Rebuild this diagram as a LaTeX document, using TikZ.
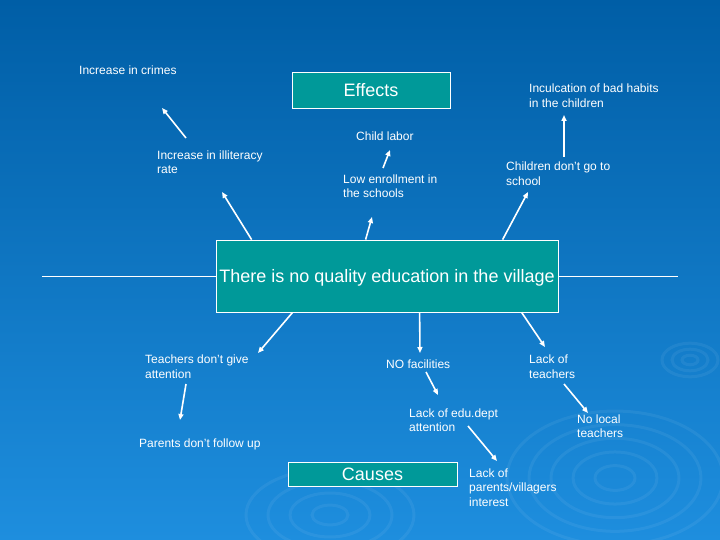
\documentclass[tikz,border=0pt]{standalone}
\usepackage{fontspec}
\setmainfont{Liberation Sans}
\usetikzlibrary{arrows.meta}

\definecolor{slidetop}{RGB}{0,94,166}
\definecolor{slidemid}{RGB}{0,104,180}
\definecolor{slidebot}{RGB}{30,142,222}
\definecolor{boxteal}{RGB}{0,153,153}

\begin{document}
\begin{tikzpicture}[
  x=1pt, y=-1pt,
  font=\fontsize{12}{14.5}\selectfont,
  lbl/.style   ={text=white, align=left, inner sep=0pt, anchor=base west},
  title/.style ={draw=white, fill=boxteal, text=white, line width=0.8pt,
                 inner sep=0pt, text depth=0pt, font=\fontsize{18}{21}\selectfont},
  ar/.style    ={-{Triangle[length=6pt,width=5pt]}, white, line width=1.6pt},
  axis/.style  ={white, line width=0.9pt},
  ripple/.style={draw=white, draw opacity=0.06, line width=3pt}
]

% slide background
\useasboundingbox (0,0) rectangle (720,540);
\shade[top color=slidetop, middle color=slidemid, bottom color=slidebot]
  (0,0) rectangle (720,540);
\foreach \r in {20,42,64,86,108}
  \draw[ripple] (615,478) ellipse[x radius=\r pt, y radius=0.62*\r pt];
\foreach \r in {18,40,62,84}
  \draw[ripple] (330,515) ellipse[x radius=\r pt, y radius=0.55*\r pt];
\foreach \r in {8,18,28}
  \draw[ripple] (690,360) ellipse[x radius=\r pt, y radius=0.6*\r pt];

% headings and the problem
\node[title, minimum width=158pt, minimum height=36pt] (effects) at (371,90) {Effects};
\node[title, minimum width=342pt, minimum height=72pt] (main) at (387,276)
  {There is no quality education in the village};
\node[title, minimum width=169pt, minimum height=24pt] (causes) at (372.5,474) {Causes};

\coordinate (leftend)  at (42,276);
\coordinate (rightend) at (678,276);
\draw[axis] (leftend) -- (main.west);
\draw[axis] (main.east) -- (rightend);

% effects (base = baseline of the last line)
\node[lbl] (crimes) at (79,75)    {Increase in crimes};
\node[lbl] (illit)  at (157,174)  {Increase in illiteracy\\rate};
\node[lbl] (labor)  at (356,141)  {Child labor};
\node[lbl] (enrol)  at (343,198)  {Low enrollment in\\the schools};
\node[lbl] (school) at (506,185.5){Children don't go to\\school};
\node[lbl] (habits) at (529,107.5){Inculcation of bad habits\\in the children};

% causes
\node[lbl] (attn)     at (145,378)  {Teachers don't give\\attention};
\node[lbl] (follow)   at (139,447)  {Parents don't follow up};
\node[lbl] (facil)    at (386,368.5){NO facilities};
\node[lbl] (lackt)    at (529,378)  {Lack of\\teachers};
\node[lbl] (dept)     at (409,431.5){Lack of edu.dept\\attention};
\node[lbl] (local)    at (577,437.5){No local\\teachers};
\node[lbl] (interest) at (469,506)  {Lack of\\parents/villagers\\interest};

% free arrow ends
\coordinate (crimes-in)   at (162,108);
\coordinate (illit-out)   at (186,138);
\coordinate (illit-in)    at (222,192);
\coordinate (labor-in)    at (390,150);
\coordinate (enrol-out)   at (383,168);
\coordinate (enrol-in)    at (372,217);
\coordinate (school-in)   at (528,192);
\coordinate (school-out)  at (564,157);
\coordinate (habits-in)   at (564,115);
\coordinate (attn-in)     at (258,353);
\coordinate (attn-out)    at (186,384);
\coordinate (follow-in)   at (180,420);
\coordinate (facil-in)    at (420,353);
\coordinate (facil-out)   at (426,372);
\coordinate (dept-in)     at (438,395);
\coordinate (dept-out)    at (468,426);
\coordinate (interest-in) at (497,461);
\coordinate (lackt-in)    at (545,347);
\coordinate (lackt-out)   at (564,384);
\coordinate (local-in)    at (588,413);

\draw[ar] ([xshift=36pt]main.north west)  -- (illit-in);
\draw[ar] (illit-out) -- (crimes-in);
\draw[ar] ([xshift=150pt]main.north west) -- (enrol-in);
\draw[ar] (enrol-out) -- (labor-in);
\draw[ar] ([xshift=287pt]main.north west) -- (school-in);
\draw[ar] (school-out) -- (habits-in);

\draw[ar] ([xshift=77pt]main.south west)  -- (attn-in);
\draw[ar] (attn-out) -- (follow-in);
\draw[ar] ([xshift=204pt]main.south west) -- (facil-in);
\draw[ar] (facil-out) -- (dept-in);
\draw[ar] (dept-out) -- (interest-in);
\draw[ar] ([xshift=306pt]main.south west) -- (lackt-in);
\draw[ar] (lackt-out) -- (local-in);

\end{tikzpicture}
\end{document}
